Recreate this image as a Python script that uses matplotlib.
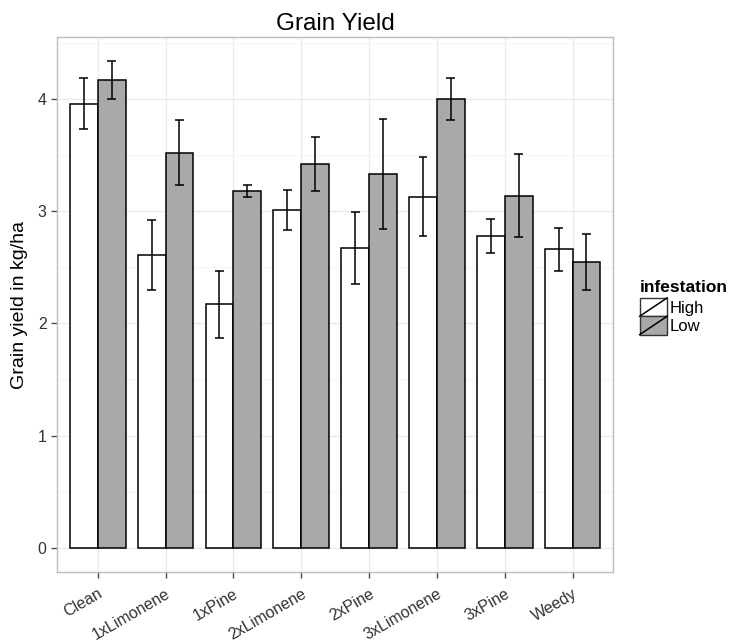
import numpy as np
import matplotlib
matplotlib.use('Agg')
from matplotlib import pyplot as plt
from matplotlib.patches import Rectangle
from matplotlib.lines import Line2D
from matplotlib.legend_handler import HandlerPatch


treatments = ['Clean', '1xLimonene', '1xPine', '2xLimonene',
              '2xPine', '3xLimonene', '3xPine', 'Weedy']
levels = ['High', 'Low']

high_mean = [3.96, 2.61, 2.17, 3.01, 2.67, 3.13, 2.78, 2.66]
high_se = [0.23, 0.31, 0.30, 0.18, 0.32, 0.35, 0.15, 0.19]
low_mean = [4.17, 3.52, 3.18, 3.42, 3.33, 4.00, 3.14, 2.55]
low_se = [0.17, 0.29, 0.05, 0.24, 0.49, 0.19, 0.37, 0.25]

fills = {'High': 'white', 'Low': '#a9a9a9'}

plt.rcParams['font.family'] = ['Liberation Sans', 'DejaVu Sans']


class SlashBox(HandlerPatch):
    # ggplot style key: filled box with a diagonal stroke
    def create_artists(self, legend, orig_handle, xdescent, ydescent,
                       width, height, fontsize, trans):
        box = Rectangle((-xdescent, -ydescent), width, height,
                        facecolor=orig_handle.get_facecolor(),
                        edgecolor='#333333', linewidth=1.0, transform=trans)
        slash = Line2D([-xdescent, -xdescent + width],
                       [-ydescent, -ydescent + height],
                       color='black', linewidth=1.1, transform=trans)
        return [box, slash]


def main():

    fig = plt.figure(figsize=(7.29, 6.44), dpi=100)
    ax = fig.add_axes([0.0782, 0.1118, 0.763, 0.8307])

    x = np.arange(1, len(treatments) + 1)
    w = 0.41
    cap = 0.065

    for off, means, ses, lev in [(-w / 2, high_mean, high_se, 'High'),
                                 (w / 2, low_mean, low_se, 'Low')]:
        ax.bar(x + off, means, width=w, color=fills[lev], edgecolor='black',
               linewidth=1.1, zorder=3)
        ax.errorbar(x + off, means, yerr=ses, fmt='none', ecolor='black',
                    elinewidth=1.1, capsize=0, zorder=4)
        lo = np.array(means) - np.array(ses)
        hi = np.array(means) + np.array(ses)
        ax.hlines(lo, x + off - cap, x + off + cap, color='black', lw=1.1, zorder=4)
        ax.hlines(hi, x + off - cap, x + off + cap, color='black', lw=1.1, zorder=4)

    ax.set_xlim(0.4, len(treatments) + 0.6)
    ax.set_ylim(-0.217, 4.553)
    ax.set_xticks(x)
    ax.set_xticklabels(treatments, rotation=30, ha='right',
                       rotation_mode='anchor', fontsize=11.5, color='#333333')
    ax.set_yticks([0, 1, 2, 3, 4])
    ax.set_yticklabels(['0', '1', '2', '3', '4'], fontsize=11.5, color='#333333')
    ax.set_yticks([0.5, 1.5, 2.5, 3.5, 4.5], minor=True)

    ax.grid(which='major', color='#ebebeb', linewidth=1.0, zorder=0)
    ax.grid(which='minor', axis='y', color='#f5f5f5', linewidth=0.8, zorder=0)
    ax.set_axisbelow(True)
    for s in ax.spines.values():
        s.set_color('#bdbdbd')
        s.set_linewidth(1.0)
    ax.tick_params(axis='both', which='major', length=4, color='#4d4d4d', width=1)
    ax.tick_params(axis='x', which='major', pad=6)
    ax.tick_params(axis='y', which='minor', length=0)

    ax.set_ylabel('Grain yield in kg/ha', fontsize=14, labelpad=7)
    ax.set_title('Grain Yield', fontsize=17.5, pad=5)

    handles = [Rectangle((0, 0), 1, 1, facecolor=fills[lev]) for lev in levels]
    leg = fig.legend(handles, levels, title='infestation', loc='upper left',
                     bbox_to_anchor=(0.866, 0.578), frameon=False,
                     handler_map={Rectangle: SlashBox()},
                     handlelength=1.65, handleheight=1.32, handletextpad=0.15,
                     labelspacing=0.0, fontsize=12, borderpad=0.0)
    leg.get_title().set_fontweight('bold')
    leg.get_title().set_fontsize(12.5)
    leg._legend_box.align = 'left'
    leg._legend_box.sep = 2

    fig.savefig('out.png', dpi=100)


if __name__ == "__main__":
    main()
